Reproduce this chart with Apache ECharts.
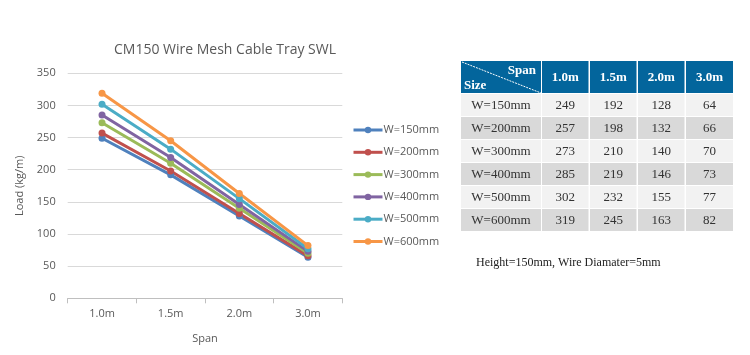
<!DOCTYPE html>
<html><head><meta charset="utf-8">
<script src="https://cdn.jsdelivr.net/npm/echarts@6/dist/echarts.min.js"></script>
<style>html,body{margin:0;padding:0;background:#fff}#c{width:750px;height:355px}</style>
</head><body><div id="c"></div>
<script>
const spans = ['1.0m', '1.5m', '2.0m', '3.0m'];
const sizes = ['W=150mm', 'W=200mm', 'W=300mm', 'W=400mm', 'W=500mm', 'W=600mm'];
const w150 = [249, 192, 128, 64];
const w200 = [257, 198, 132, 66];
const w300 = [273, 210, 140, 70];
const w400 = [285, 219, 146, 73];
const w500 = [302, 232, 155, 77];
const w600 = [319, 245, 163, 82];
const yTicks = [0, 50, 100, 150, 200, 250, 300, 350];
const note = 'Height=150mm, Wire Diamater=5mm';

const values = [w150, w200, w300, w400, w500, w600];
const colors = ['#4F81BD', '#C0504D', '#9BBB59', '#8064A2', '#4BACC6', '#F79646'];

// table layout
const colX = [461, 542, 590, 638, 686];
const colW = [80, 46.5, 46.5, 46.5, 47];
const headTop = 61, headH = 32, rowTop = 94, rowStep = 23, rowH = 22;
const serif = '"Liberation Serif", "Times New Roman", serif';
const g = [];
// header
for (let c = 0; c < colX.length; c++) {
  g.push({type:'rect', shape:{x:colX[c], y:headTop, width:colW[c], height:headH}, style:{fill:'#03659c'}});
}
g.push({type:'line', shape:{x1:colX[0]+1, y1:headTop+1, x2:colX[0]+colW[0], y2:headTop+headH}, style:{stroke:'#ffffff', lineWidth:1, lineDash:[2,1]}});
g.push({type:'text', style:{text:'Span', x:colX[0]+colW[0]-5, y:headTop+3, align:'right', verticalAlign:'top', font:'bold 13px '+serif, fill:'#fff'}});
g.push({type:'text', style:{text:'Size', x:colX[0]+3, y:headTop+headH-1, align:'left', verticalAlign:'bottom', font:'bold 13px '+serif, fill:'#fff'}});
spans.forEach((s, i) => {
  g.push({type:'text', style:{text:s, x:colX[i+1]+colW[i+1]/2, y:headTop+headH/2+1, align:'center', verticalAlign:'middle', font:'bold 13px '+serif, fill:'#fff'}});
});
sizes.forEach((sz, r) => {
  const y = rowTop + r*rowStep;
  const fill = r % 2 === 0 ? '#f2f2f2' : '#d9d9d9';
  for (let c = 0; c < colX.length; c++) {
    g.push({type:'rect', shape:{x:colX[c], y:y, width:colW[c], height:rowH}, style:{fill:fill}});
  }
  g.push({type:'text', style:{text:sz, x:colX[0]+colW[0]/2, y:y+rowH/2+1, align:'center', verticalAlign:'middle', font:'13px '+serif, fill:'#333'}});
  values[r].forEach((v, c) => {
    g.push({type:'text', style:{text:String(v), x:colX[c+1]+colW[c+1]/2, y:y+rowH/2+1, align:'center', verticalAlign:'middle', font:'13px '+serif, fill:'#333'}});
  });
});
g.push({type:'text', style:{text:note, x:476, y:263, align:'left', verticalAlign:'middle', font:'12px '+serif, fill:'#222'}});

const chart = echarts.init(document.getElementById('c'), null, {renderer:'canvas'});
chart.setOption({
  animation:false,
  backgroundColor:'#fff',
  title:{text:'CM150 Wire Mesh Cable Tray SWL', left:220, top:38, textAlign:'center',
    textStyle:{fontFamily:'"Open Sans", sans-serif', fontSize:14, fontWeight:'normal', color:'#595959'}},
  legend:{orient:'vertical', left:352, top:123, padding:0, itemWidth:29, itemHeight:8, itemGap:8.3,
    data:sizes,
    lineStyle:{width:3},
    textStyle:{fontFamily:'"Open Sans", sans-serif', fontSize:11, color:'#595959', lineHeight:14, padding:[0,0,0,-4]}},
  grid:{left:67.7, right:407.7, top:73.3, bottom:56.7},
  xAxis:{type:'category', data:spans, boundaryGap:true,
    name:'Span', nameLocation:'middle', nameGap:35,
    nameTextStyle:{fontFamily:'"Open Sans", sans-serif', fontSize:11, color:'#595959'},
    axisLine:{lineStyle:{color:'#bfbfbf'}},
    axisTick:{show:true, length:5, lineStyle:{color:'#bfbfbf'}},
    axisLabel:{margin:10, fontFamily:'"Open Sans", sans-serif', fontSize:11, color:'#595959'}},
  yAxis:{type:'value', min:yTicks[0], max:yTicks[yTicks.length-1], interval:yTicks[1]-yTicks[0],
    name:'Load (kg/m)', nameLocation:'middle', nameGap:42,
    nameTextStyle:{fontFamily:'"Open Sans", sans-serif', fontSize:11, color:'#595959'},
    axisLine:{show:false}, axisTick:{show:false},
    splitLine:{lineStyle:{color:'#d9d9d9'}},
    axisLabel:{margin:12, fontFamily:'"Open Sans", sans-serif', fontSize:11, color:'#595959'}},
  series: sizes.map((name, i) => ({
    name:name, type:'line', data:values[i], color:colors[i],
    symbol:'circle', symbolSize:7,
    lineStyle:{width:3, color:colors[i]}, itemStyle:{color:colors[i]}
  })),
  graphic:g
});
</script></body></html>
